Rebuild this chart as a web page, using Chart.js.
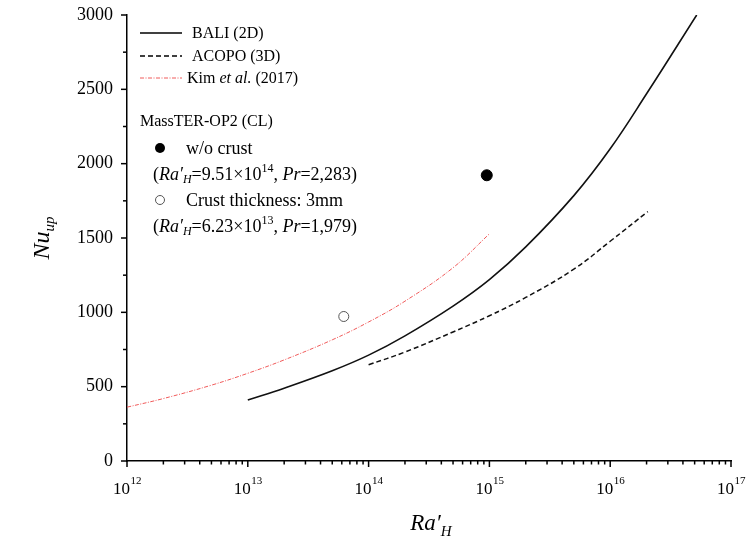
<!DOCTYPE html>
<html>
<head>
<meta charset="utf-8">
<script src="https://cdn.jsdelivr.net/npm/chart.js@4.4.1/dist/chart.umd.min.js"></script>
<style>
  html, body { margin: 0; padding: 0; background: #fff; }
  #wrap { width: 753px; height: 542px; }
</style>
</head>
<body>
<div id="wrap"><canvas id="nuChart" width="753" height="542"></canvas></div>
<script>
// valores
const decadas = [1e12, 1e13, 1e14, 1e15, 1e16, 1e17];
const yTicksMayor = [0, 500, 1000, 1500, 2000, 2500, 3000];
const yTicksMenor = [250, 750, 1250, 1750, 2250, 2750];

const baliRa = [1e13, 2e13, 5e13, 1e14, 2e14, 5e14, 1e15, 2e15, 5e15, 1e16, 2e16, 5.2e16];
const baliNu = [410, 490, 607, 712, 842, 1042, 1220, 1440, 1785, 2100, 2470, 3000];

const acopoRa = [1e14, 2e14, 5e14, 1e15, 2e15, 5e15, 1e16, 2.05e16];
const acopoNu = [647, 733, 868, 977, 1100, 1290, 1478, 1678];

const kimRa = [1e12, 2e12, 5e12, 1e13, 2e13, 5e13, 1e14, 2e14, 5e14, 1e15];
const kimNu = [362, 420, 510, 590, 680, 815, 935, 1075, 1300, 1528];

const sinCostraRa = [9.51e14];
const sinCostraNu = [1922];
const costraRa = [6.23e13];
const costraNu = [972];

const FUENTE = '"Liberation Serif", "DejaVu Serif", serif';

function puntos(xs, ys) {
    return xs.map((x, i) => ({ x: x, y: ys[i] }));
}

// ticks, etiquetas con superindice, titulos y leyenda
const extrasPlugin = {
    id: 'extras',
    afterDraw(chart) {
        const ctx = chart.ctx;
        const xs = chart.scales.x;
        const ys = chart.scales.y;
        const area = chart.chartArea;
        ctx.save();
        ctx.strokeStyle = '#000';
        ctx.lineWidth = 1.5;

        // ticks eje y
        yTicksMayor.forEach(v => {
            const py = ys.getPixelForValue(v);
            ctx.beginPath(); ctx.moveTo(area.left - 6, py); ctx.lineTo(area.left, py); ctx.stroke();
        });
        yTicksMenor.forEach(v => {
            const py = ys.getPixelForValue(v);
            ctx.beginPath(); ctx.moveTo(area.left - 4, py); ctx.lineTo(area.left, py); ctx.stroke();
        });

        // ticks eje x (log)
        for (let d = 0; d < decadas.length; d++) {
            const px = xs.getPixelForValue(decadas[d]);
            ctx.beginPath(); ctx.moveTo(px, area.bottom); ctx.lineTo(px, area.bottom + 6); ctx.stroke();
            if (d < decadas.length - 1) {
                for (let k = 2; k <= 9; k++) {
                    const pm = xs.getPixelForValue(decadas[d] * k);
                    ctx.beginPath(); ctx.moveTo(pm, area.bottom); ctx.lineTo(pm, area.bottom + 3.5); ctx.stroke();
                }
            }
        }

        // etiquetas 10^n
        ctx.fillStyle = '#000';
        ctx.textBaseline = 'alphabetic';
        decadas.forEach(v => {
            const px = xs.getPixelForValue(v);
            const exp = String(Math.round(Math.log10(v)));
            ctx.font = '17px ' + FUENTE;
            const w1 = ctx.measureText('10').width;
            ctx.font = '11px ' + FUENTE;
            const w2 = ctx.measureText(exp).width;
            const x0 = px - (w1 + w2) / 2;
            ctx.font = '17px ' + FUENTE;
            ctx.textAlign = 'left';
            ctx.fillText('10', x0, 494);
            ctx.font = '11px ' + FUENTE;
            ctx.fillText(exp, x0 + w1 + 0.5, 484);
        });

        // titulo eje x: Ra'_H
        ctx.font = 'italic 23px ' + FUENTE;
        ctx.textAlign = 'left';
        let t = 'Ra\u2032';
        let wt = ctx.measureText(t).width;
        ctx.font = 'italic 15px ' + FUENTE;
        let ws = ctx.measureText('H').width;
        let tx = 431 - (wt + ws) / 2;
        ctx.font = 'italic 23px ' + FUENTE;
        ctx.fillText(t, tx, 530);
        ctx.font = 'italic 15px ' + FUENTE;
        ctx.fillText('H', tx + wt, 536);

        // titulo eje y: Nu_up
        ctx.save();
        ctx.translate(49, 238);
        ctx.rotate(-Math.PI / 2);
        ctx.font = 'italic 24px ' + FUENTE;
        wt = ctx.measureText('Nu').width;
        ctx.font = 'italic 15px ' + FUENTE;
        ws = ctx.measureText('up').width;
        tx = -(wt + ws) / 2;
        ctx.font = 'italic 24px ' + FUENTE;
        ctx.fillText('Nu', tx, 0);
        ctx.font = 'italic 15px ' + FUENTE;
        ctx.fillText('up', tx + wt, 5);
        ctx.restore();

        // leyenda
        const f = '16px ' + FUENTE;
        const fi = 'italic 16px ' + FUENTE;
        const g = '18px ' + FUENTE;
        const gi = 'italic 18px ' + FUENTE;
        const fs = '12px ' + FUENTE;
        const fsi = 'italic 12px ' + FUENTE;
        function linea(y, color, dash, lw) {
            ctx.save();
            ctx.strokeStyle = color; ctx.lineWidth = lw; ctx.setLineDash(dash);
            ctx.beginPath(); ctx.moveTo(140, y); ctx.lineTo(182, y); ctx.stroke();
            ctx.restore();
        }
        function trozos(x, y, partes) {
            partes.forEach(p => {
                ctx.font = p[1];
                ctx.fillText(p[0], x, y + (p[2] || 0));
                x += ctx.measureText(p[0]).width;
            });
            return x;
        }
        ctx.textBaseline = 'middle';
        linea(33, '#000', [], 1.5);
        trozos(192, 34, [['BALI (2D)', f]]);
        linea(56, '#000', [5, 3], 1.5);
        trozos(192, 57, [['ACOPO (3D)', f]]);
        linea(78, '#f05a5a', [4, 1.5, 1, 1.5], 1);
        trozos(187, 79, [['Kim ', f], ['et al.', fi], [' (2017)', f]]);

        trozos(140, 122, [['MassTER-OP2 (CL)', f]]);

        ctx.fillStyle = '#000';
        ctx.beginPath(); ctx.arc(160, 148, 5, 0, Math.PI * 2); ctx.fill();
        trozos(186, 149, [['w/o crust', g]]);

        trozos(153, 175, [['(', g], ['Ra\u2032', gi], ['H', fsi, 5], ['=9.51\u00d710', g], ['14', fs, -6],
                          [', ', g], ['Pr', gi], ['=2,283)', g]]);

        ctx.strokeStyle = '#555'; ctx.lineWidth = 1;
        ctx.beginPath(); ctx.arc(160, 200, 4.5, 0, Math.PI * 2); ctx.stroke();
        trozos(186, 201, [['Crust thickness: 3mm', g]]);
        trozos(153, 227, [['(', g], ['Ra\u2032', gi], ['H', fsi, 5], ['=6.23\u00d710', g], ['13', fs, -6],
                          [', ', g], ['Pr', gi], ['=1,979)', g]]);

        ctx.restore();
    }
};

const ctx = document.getElementById('nuChart').getContext('2d');
const grafica = new Chart(ctx, {
    type: 'scatter',
    data: {
        datasets: [
            {
                label: 'BALI (2D)',
                data: puntos(baliRa, baliNu),
                showLine: true,
                borderColor: '#111',
                borderWidth: 1.6,
                pointRadius: 0,
                tension: 0.4
            },
            {
                label: 'ACOPO (3D)',
                data: puntos(acopoRa, acopoNu),
                showLine: true,
                borderColor: '#111',
                borderWidth: 1.5,
                borderDash: [5, 3],
                pointRadius: 0,
                tension: 0.4
            },
            {
                label: 'Kim et al. (2017)',
                data: puntos(kimRa, kimNu),
                showLine: true,
                borderColor: '#f05a5a',
                borderWidth: 1,
                borderDash: [4, 1.5, 1, 1.5],
                pointRadius: 0,
                tension: 0.4
            },
            {
                label: 'w/o crust',
                data: puntos(sinCostraRa, sinCostraNu),
                pointRadius: 5.5,
                pointBackgroundColor: '#000',
                pointBorderColor: '#000'
            },
            {
                label: 'Crust thickness: 3mm',
                data: puntos(costraRa, costraNu),
                pointRadius: 5,
                pointBackgroundColor: '#fff',
                pointBorderColor: '#555',
                pointBorderWidth: 1
            }
        ]
    },
    options: {
        responsive: false,
        animation: false,
        layout: { padding: { left: 0, right: 22, top: 15, bottom: 0 } },
        plugins: {
            legend: { display: false },
            tooltip: { enabled: false }
        },
        scales: {
            x: {
                type: 'logarithmic',
                min: 1e12,
                max: 1e17,
                grid: { display: false, drawTicks: false },
                border: { display: true, color: '#000', width: 1.5 },
                ticks: { display: false },
                afterFit: s => { s.height = 81; s.paddingLeft = 0; s.paddingRight = 0; }
            },
            y: {
                min: 0,
                max: 3000,
                grid: { display: false, drawTicks: false },
                border: { display: true, color: '#000', width: 1.5 },
                ticks: {
                    stepSize: 500,
                    padding: 14,
                    color: '#000',
                    font: { family: FUENTE, size: 18 },
                    callback: v => String(v)
                },
                afterFit: s => { s.width = 127; s.paddingTop = 0; s.paddingBottom = 0; }
            }
        }
    },
    plugins: [extrasPlugin]
});
</script>
</body>
</html>
